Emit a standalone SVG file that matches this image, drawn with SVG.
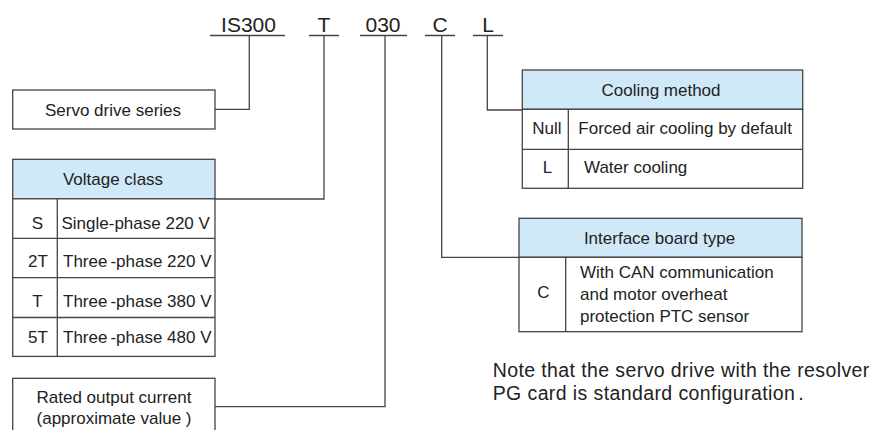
<svg xmlns="http://www.w3.org/2000/svg" width="876" height="430" viewBox="0 0 876 430">
<style>
text { font-family: "Liberation Sans", Arial, sans-serif; fill: #222; }
.code { font-size: 21px; text-anchor: middle; }
.t { font-size: 17px; }
.c { text-anchor: middle; }
.note { font-size: 19.5px; letter-spacing: 0.4px; }
.box { fill: #fff; stroke: #444; stroke-width: 1.3; }
.hdr { fill: #cfe9f9; stroke: #444; stroke-width: 1.3; }
.ln { fill: none; stroke: #444; stroke-width: 1.3; }
</style>
<rect width="876" height="430" fill="#fff"/>

<g id="code">
  <text class="code" x="248.5" y="32">IS300</text>
  <text class="code" x="324" y="32">T</text>
  <text class="code" x="383" y="32">030</text>
  <text class="code" x="440" y="32">C</text>
  <text class="code" x="488" y="32">L</text>
  <path class="ln" d="M210,35.5 H285 M309,35.5 H339 M360,35.5 H407 M425,35.5 H455 M473,35.5 H503"/>
</g>

<g id="connectors">
  <path class="ln" d="M249.3,35.5 V109.3 H215"/>
  <path class="ln" d="M324,35.5 V199 H215"/>
  <path class="ln" d="M385,35.5 V406.7 H215"/>
  <path class="ln" d="M441.7,35.5 V257.3 H519"/>
  <path class="ln" d="M487.3,35.5 V110 H522.3"/>
</g>

<g id="servo-series">
  <rect class="box" x="12.7" y="90" width="202.3" height="39"/>
  <text class="t c" x="113" y="115.5">Servo drive series</text>
</g>

<g id="voltage-class">
  <rect class="hdr" x="12.7" y="159.3" width="202.3" height="39.5"/>
  <rect class="box" x="12.7" y="198.8" width="202.3" height="157.6"/>
  <path class="ln" d="M12.7,238.3 H215 M12.7,277.7 H215 M12.7,317.5 H215 M57.3,198.8 V356.4"/>
  <text class="t c" x="113" y="185">Voltage class</text>
  <text class="t c" x="37.5" y="229.3">S</text>
  <text class="t" x="61.5" y="229.3">Single-phase 220 V</text>
  <text class="t c" x="38" y="267.3">2T</text>
  <text class="t" x="63" y="267.3">Three<tspan dx="3">-phase 220 V</tspan></text>
  <text class="t c" x="37.5" y="306.7">T</text>
  <text class="t" x="63" y="306.7">Three<tspan dx="3">-phase 380 V</tspan></text>
  <text class="t c" x="38" y="343.3">5T</text>
  <text class="t" x="63" y="343.3">Three<tspan dx="3">-phase 480 V</tspan></text>
</g>

<g id="rated-current">
  <rect class="box" x="12.7" y="378.3" width="202.3" height="60"/>
  <text class="t c" x="114" y="403.3">Rated output current</text>
  <text class="t c" x="114" y="424">(approximate value )</text>
</g>

<g id="cooling-method">
  <rect class="hdr" x="522.3" y="70" width="280.4" height="39.3"/>
  <rect class="box" x="522.3" y="109.3" width="280.4" height="79"/>
  <path class="ln" d="M522.3,149.3 H802.7 M568.3,109.3 V188.3"/>
  <text class="t c" x="661" y="95.7">Cooling method</text>
  <text class="t c" x="547" y="134">Null</text>
  <text class="t" x="578.3" y="134">Forced air cooling by default</text>
  <text class="t c" x="547.5" y="173.3">L</text>
  <text class="t" x="584" y="173.3">Water cooling</text>
</g>

<g id="interface-board">
  <rect class="hdr" x="519" y="218.3" width="283" height="39"/>
  <rect class="box" x="519" y="257.3" width="283" height="74.4"/>
  <path class="ln" d="M565.7,257.3 V331.7"/>
  <text class="t c" x="659.5" y="244">Interface board type</text>
  <text class="t c" x="543.3" y="298.3">C</text>
  <text class="t" x="580" y="278.3">With CAN communication</text>
  <text class="t" x="580" y="300">and motor overheat</text>
  <text class="t" x="580" y="321.7">protection PTC sensor</text>
</g>

<g id="note">
  <text class="note" x="492.7" y="376.7">Note that the servo drive with the resolver</text>
  <text class="note" x="492.7" y="400">PG card is standard configuration<tspan dx="3">.</tspan></text>
</g>
</svg>
